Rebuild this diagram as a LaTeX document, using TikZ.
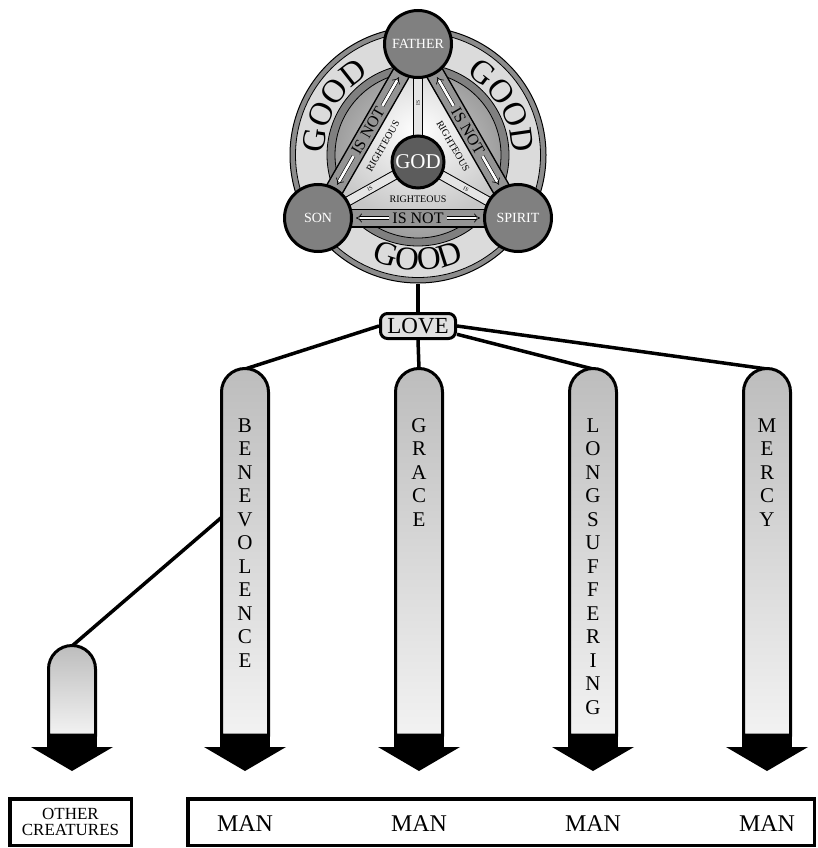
\documentclass[tikz,border=0pt]{standalone}
\usepackage{fontspec}
\setmainfont{Liberation Serif}
\usetikzlibrary{arrows.meta,decorations.text,calc}
\definecolor{ringdark}{gray}{0.55}
\definecolor{ringlight}{gray}{0.86}
\definecolor{innerring}{gray}{0.5}
\definecolor{diskin}{gray}{0.85}
\definecolor{diskout}{gray}{0.62}
\definecolor{triedge}{gray}{0.78}
\definecolor{bandgray}{gray}{0.58}
\definecolor{spokegray}{gray}{0.9}
\definecolor{vtxgray}{gray}{0.5}
\definecolor{godgray}{gray}{0.36}
\definecolor{coltop}{gray}{0.74}
\definecolor{colbot}{gray}{0.95}
\definecolor{lovefill}{gray}{0.88}
\newcommand\goodfont{\fontsize{33}{33}\selectfont}
\newcommand\drawcol[2]{%
  \shadedraw[top color=coltop, bottom color=colbot, draw=black, line width=3pt]
    (#1-23.5,-735) -- (#1-23.5,-#2-25) arc[start angle=180,end angle=0,radius=23.5] -- (#1+23.5,-735) -- cycle;
  \fill[black] (#1-25,-733.5) rectangle (#1+25,-748);
  \fill[black] (#1-41,-747) -- (#1+41,-747) -- (#1,-771) -- cycle;
}
\begin{document}
\begin{tikzpicture}[x=1pt,y=1pt,
  conn/.style={line width=3.5pt},
  vtx/.style={circle, draw=black, line width=3pt, fill=vtxgray, text=white, minimum size=67pt, inner sep=0pt, font=\fontsize{14}{14}\selectfont},
  godnode/.style={vtx, fill=godgray, minimum size=52pt, font=\fontsize{21}{21}\selectfont},
  isnot/.style={font=\fontsize{16}{16}\selectfont, inner sep=0pt},
  righteous/.style={font=\fontsize{10}{10}\selectfont, inner sep=0pt},
  istext/.style={font=\fontsize{5.5}{5.5}\selectfont, inner sep=0pt},
  hollow/.style={draw=black, line width=0.6pt, double=white, double distance=2.6pt, -{Implies}},
  lovebox/.style={draw=black, line width=3pt, rounded corners=7pt, fill=lovefill, minimum width=75pt, minimum height=25pt, inner sep=0pt, font=\fontsize{23}{23}\selectfont},
  colletter/.style={anchor=base, inner sep=0pt, font=\fontsize{21}{21}\selectfont},
  man/.style={anchor=base, inner sep=0pt, font=\fontsize{24}{24}\selectfont},
  goodtext/.style={decorate, decoration={text along path, text={|\goodfont|GOOD}, text align=center}},
  outbox/.style={draw=black, line width=3.5pt, minimum height=46.5pt, inner sep=0pt},
]
\useasboundingbox (0,0) rectangle (817,-848);

% ---------- emblem ----------
\coordinate (cO) at (418,-155);
\coordinate (cF) at (418,-44);
\coordinate (cS) at (318,-218);
\coordinate (cP) at (518,-218);
\coordinate (cG) at (418,-162);

\node[circle, draw=black, line width=1pt, fill=ringdark, minimum size=256pt, inner sep=0pt] (outer) at (cO) {};
\filldraw[fill=ringlight, draw=black, line width=0.8pt] (cO) circle (122.5);
\filldraw[fill=innerring, draw=black, line width=0.8pt] (cO) circle (91);
\shade[inner color=diskin, outer color=diskout] (cO) circle (83);
\draw[line width=0.8pt] (cO) circle (83);

\path[goodtext] ($(cO)+(200:94)$) arc[start angle=200, end angle=100, radius=94];
\path[goodtext] ($(cO)+(80:94)$) arc[start angle=80, end angle=-20, radius=94];
\path[goodtext] ($(cO)+(220:115)$) arc[start angle=220, end angle=320, radius=115];

\shade[inner color=white, outer color=triedge] (cF) -- (cS) -- (cP) -- cycle;

\foreach \v in {cF,cS,cP} {
  \draw[line width=10pt] (cG) -- (\v);
  \draw[line width=8pt, spokegray] (cG) -- (\v);
}
\foreach \a/\b in {cS/cF, cF/cP, cS/cP} {
  \draw[line width=19pt] (\a) -- (\b);
  \draw[line width=16pt, bandgray] (\a) -- (\b);
}
\coordinate (mL) at ($(cS)!0.5!(cF)$);
\coordinate (mR) at ($(cF)!0.5!(cP)$);
\coordinate (mB) at ($(cS)!0.5!(cP)$);
\foreach \m/\a/\b in {mL/cS/cF, mR/cF/cP, mB/cS/cP} {
  \draw[hollow] ($(\m)!29pt!(\a)$) -- ($(\m)!62pt!(\a)$);
  \draw[hollow] ($(\m)!29pt!(\b)$) -- ($(\m)!62pt!(\b)$);
}
\node[isnot, rotate=60] (isnotL) at (mL) {IS NOT};
\node[isnot, rotate=-60] (isnotR) at (mR) {IS NOT};
\node[isnot] (isnotB) at (mB) {IS NOT};

\node[righteous, rotate=60] (rL) at (383,-146) {RIGHTEOUS};
\node[righteous, rotate=-60] (rR) at (453,-146) {RIGHTEOUS};
\node[righteous] (rB) at (418,-199) {RIGHTEOUS};

\node[istext, rotate=90] (isF) at (418,-103) {IS};
\node[istext, rotate=29] (isS) at (370,-189) {IS};
\node[istext, rotate=-29] (isP) at (466,-189) {IS};

\node[vtx] (father) at (cF) {FATHER};
\node[vtx] (son) at (cS) {SON};
\node[vtx] (spirit) at (cP) {SPIRIT};
\node[godnode] (god) at (cG) {GOD};

% ---------- love and connectors ----------
\node[lovebox] (love) at (418,-326) {LOVE};
\draw[conn] (outer.south) -- (love.north);

\coordinate (benTop) at (245,-369);
\coordinate (graTop) at (419,-369);
\coordinate (lonTop) at (593,-369);
\coordinate (merTop) at (767,-369);
\coordinate (othTop) at (72,-646);
\coordinate (benSide) at (222,-517);

\draw[conn] (love.west) -- (benTop);
\draw[conn] (love.south) -- (graTop);
\draw[conn] (love.-12) -- (lonTop);
\draw[conn] (love.east) -- (merTop);
\draw[conn] (benSide) -- (othTop);

% ---------- columns ----------
\drawcol{245}{367}
\drawcol{419}{367}
\drawcol{593}{367}
\drawcol{767}{367}
\drawcol{72}{644}

\foreach \l [count=\i] in {B,E,N,E,V,O,L,E,N,C,E}
  \node[colletter] (ben\i) at (245,-432-23.5*\i+23.5) {\l};
\foreach \l [count=\i] in {G,R,A,C,E}
  \node[colletter] (gra\i) at (419,-432-23.5*\i+23.5) {\l};
\foreach \l [count=\i] in {L,O,N,G,S,U,F,F,E,R,I,N,G}
  \node[colletter] (lon\i) at (593,-432-23.5*\i+23.5) {\l};
\foreach \l [count=\i] in {M,E,R,C,Y}
  \node[colletter] (mer\i) at (767,-432-23.5*\i+23.5) {\l};

% ---------- bottom boxes ----------
\node[outbox, minimum width=121.5pt, align=center, font=\fontsize{17}{15.5}\selectfont] (other) at (70.5,-822) {OTHER\\CREATURES};
\node[outbox, minimum width=626.5pt] (manbox) at (501,-822) {};
\node[man] (man1) at (245,-831) {MAN};
\node[man] (man2) at (419,-831) {MAN};
\node[man] (man3) at (593,-831) {MAN};
\node[man] (man4) at (767,-831) {MAN};
\end{tikzpicture}
\end{document}
